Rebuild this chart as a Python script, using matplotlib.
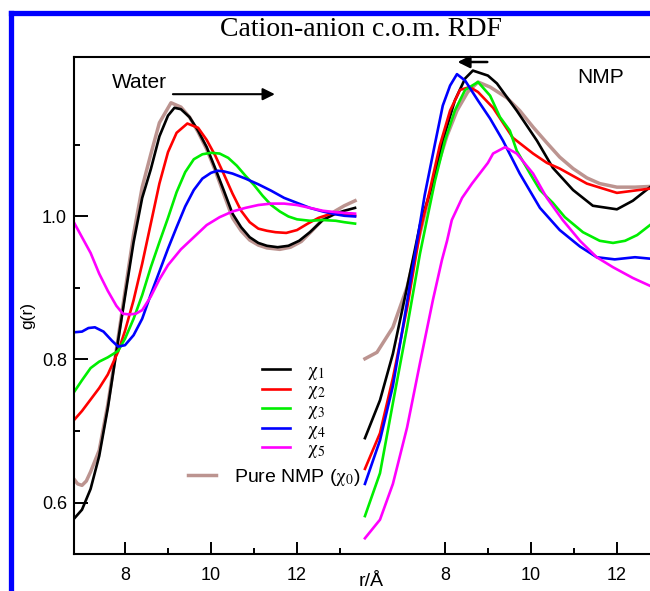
import matplotlib
matplotlib.use('Agg')
import matplotlib.pyplot as plt
from matplotlib.lines import Line2D

plt.rcParams['font.family'] = ['Liberation Sans', 'DejaVu Sans']
plt.rcParams['mathtext.fontset'] = 'stix'

# ---- water panel (left) : r in Angstrom, g(r) ----
w_r_chi1 = [6.81, 7.0, 7.2, 7.4, 7.6, 7.8, 8.0, 8.2, 8.4, 8.6, 8.8, 9.0, 9.15, 9.3, 9.5, 9.7, 9.9,
            10.1, 10.3, 10.5, 10.7, 10.9, 11.1, 11.3, 11.55, 11.8, 12.05, 12.3, 12.6, 12.9, 13.1, 13.35]
w_g_chi1 = [0.577, 0.590, 0.619, 0.665, 0.732, 0.811, 0.888, 0.964, 1.026, 1.066, 1.112, 1.141, 1.152,
            1.150, 1.139, 1.120, 1.097, 1.067, 1.036, 1.004, 0.985, 0.971, 0.963, 0.959, 0.957, 0.959,
            0.966, 0.978, 0.995, 1.004, 1.008, 1.012]

w_r_chi2 = [6.81, 7.0, 7.2, 7.4, 7.6, 7.84, 8.0, 8.2, 8.4, 8.6, 8.8, 9.0, 9.2, 9.45, 9.7, 9.9, 10.1,
            10.3, 10.5, 10.7, 10.9, 11.1, 11.3, 11.5, 11.75, 12.0, 12.25, 12.5, 12.8, 13.1, 13.35]
w_g_chi2 = [0.715, 0.728, 0.744, 0.760, 0.779, 0.811, 0.840, 0.883, 0.934, 0.990, 1.046, 1.090, 1.117,
            1.130, 1.124, 1.107, 1.085, 1.059, 1.032, 1.008, 0.992, 0.983, 0.980, 0.978, 0.977, 0.981,
            0.990, 0.998, 1.004, 1.003, 1.001]

w_r_chi3 = [6.81, 7.0, 7.2, 7.4, 7.6, 7.84, 8.0, 8.2, 8.4, 8.6, 8.8, 9.0, 9.2, 9.4, 9.6, 9.8, 10.0,
            10.2, 10.4, 10.6, 10.8, 11.0, 11.2, 11.4, 11.6, 11.8, 12.0, 12.3, 12.6, 12.9, 13.1, 13.35]
w_g_chi3 = [0.754, 0.771, 0.788, 0.797, 0.803, 0.812, 0.829, 0.857, 0.890, 0.929, 0.964, 0.998, 1.034,
            1.062, 1.080, 1.087, 1.089, 1.088, 1.082, 1.071, 1.057, 1.044, 1.029, 1.016, 1.007, 1.000,
            0.996, 0.994, 0.995, 0.994, 0.992, 0.990]

w_r_chi4 = [6.81, 7.0, 7.15, 7.3, 7.5, 7.7, 7.84, 8.0, 8.2, 8.4, 8.6, 8.8, 9.0, 9.2, 9.4, 9.6, 9.8,
            10.0, 10.15, 10.3, 10.5, 10.8, 11.1, 11.4, 11.7, 12.0, 12.3, 12.6, 12.9, 13.1, 13.35]
w_g_chi4 = [0.838, 0.839, 0.844, 0.845, 0.839, 0.826, 0.818, 0.820, 0.834, 0.857, 0.891, 0.923, 0.955,
            0.985, 1.014, 1.037, 1.053, 1.061, 1.064, 1.063, 1.060, 1.053, 1.045, 1.036, 1.026, 1.019,
            1.012, 1.007, 1.003, 1.001, 1.000]

w_r_chi5 = [6.81, 7.0, 7.2, 7.4, 7.6, 7.8, 7.95, 8.1, 8.25, 8.4, 8.6, 8.8, 9.0, 9.3, 9.6, 9.9, 10.2,
            10.5, 10.8, 11.1, 11.4, 11.7, 12.0, 12.3, 12.6, 12.9, 13.1, 13.35]
w_g_chi5 = [0.992, 0.971, 0.949, 0.920, 0.896, 0.875, 0.864, 0.863, 0.864, 0.869, 0.888, 0.912, 0.932,
            0.954, 0.971, 0.988, 0.999, 1.007, 1.012, 1.016, 1.018, 1.018, 1.016, 1.012, 1.008, 1.006,
            1.005, 1.004]

w_r_chi0 = [6.81, 6.9, 7.0, 7.1, 7.2, 7.4, 7.6, 7.8, 8.0, 8.2, 8.4, 8.6, 8.8, 9.07, 9.3, 9.5, 9.7,
            9.9, 10.1, 10.3, 10.5, 10.7, 10.9, 11.1, 11.3, 11.6, 11.85, 12.1, 12.35, 12.6, 12.9, 13.1, 13.35]
w_g_chi0 = [0.633, 0.626, 0.624, 0.630, 0.643, 0.673, 0.737, 0.814, 0.895, 0.975, 1.041, 1.087, 1.131,
            1.159, 1.153, 1.139, 1.118, 1.094, 1.064, 1.031, 0.998, 0.980, 0.967, 0.960, 0.956, 0.954,
            0.957, 0.965, 0.980, 0.996, 1.008, 1.015, 1.022]

# ---- NMP panel (right) ----
n_r_chi1 = [6.14, 6.49, 6.79, 7.12, 7.42, 7.7, 7.95, 8.23, 8.47, 8.65, 9.0, 9.21, 9.67, 10.14, 10.51,
            10.98, 11.44, 12.0, 12.37, 12.77]
n_g_chi1 = [0.690, 0.743, 0.808, 0.901, 0.988, 1.043, 1.106, 1.162, 1.193, 1.204, 1.197, 1.186, 1.148,
            1.106, 1.068, 1.037, 1.015, 1.010, 1.022, 1.041]

n_r_chi2 = [6.14, 6.49, 6.79, 7.12, 7.42, 7.65, 7.88, 8.12, 8.35, 8.58, 8.77, 9.12, 9.58, 10.05, 10.37,
            10.67, 11.3, 12.0, 12.77]
n_g_chi2 = [0.647, 0.697, 0.774, 0.872, 0.978, 1.037, 1.099, 1.148, 1.177, 1.181, 1.174, 1.152, 1.110,
            1.088, 1.075, 1.067, 1.046, 1.033, 1.039]

n_r_chi3 = [6.14, 6.49, 6.79, 7.12, 7.42, 7.58, 7.77, 8.0, 8.23, 8.47, 8.77, 9.05, 9.28, 9.51, 9.67,
            9.98, 10.21, 10.51, 10.79, 11.21, 11.6, 11.91, 12.19, 12.47, 12.77]
n_g_chi3 = [0.581, 0.641, 0.739, 0.845, 0.948, 0.995, 1.050, 1.106, 1.148, 1.177, 1.188, 1.169, 1.139,
            1.120, 1.092, 1.060, 1.037, 1.019, 0.999, 0.978, 0.966, 0.963, 0.966, 0.974, 0.988]

n_r_chi4 = [6.14, 6.49, 6.79, 7.05, 7.26, 7.53, 7.77, 7.95, 8.12, 8.28, 8.47, 8.77, 9.05, 9.35, 9.74,
            10.21, 10.67, 11.14, 11.53, 11.95, 12.42, 12.77]
n_g_chi4 = [0.626, 0.687, 0.763, 0.855, 0.932, 1.030, 1.102, 1.155, 1.183, 1.199, 1.190, 1.162, 1.137,
            1.106, 1.060, 1.012, 0.981, 0.958, 0.943, 0.940, 0.943, 0.941]

n_r_chi5 = [6.14, 6.49, 6.79, 7.12, 7.42, 7.72, 7.93, 8.05, 8.16, 8.4, 8.63, 9.0, 9.12, 9.4, 9.67,
            10.05, 10.37, 10.74, 11.14, 11.53, 11.91, 12.37, 12.77]
n_g_chi5 = [0.550, 0.576, 0.626, 0.705, 0.795, 0.883, 0.939, 0.966, 0.995, 1.026, 1.046, 1.075, 1.088,
            1.097, 1.088, 1.060, 1.026, 0.995, 0.966, 0.943, 0.929, 0.914, 0.903]

n_r_chi0 = [6.14, 6.42, 6.79, 7.12, 7.35, 7.58, 7.81, 8.05, 8.28, 8.53, 8.77, 9.05, 9.44, 9.74, 10.05,
            10.37, 10.67, 10.98, 11.3, 11.6, 12.0, 12.42, 12.77]
n_g_chi0 = [0.801, 0.810, 0.845, 0.901, 0.959, 1.015, 1.067, 1.113, 1.148, 1.174, 1.188, 1.181, 1.166,
            1.148, 1.125, 1.103, 1.083, 1.067, 1.054, 1.046, 1.041, 1.041, 1.042]

# both panels share one frame; the NMP panel is drawn shifted to the right
nmp_shift = 7.44

series_labels = [r'$\mathrm{\chi}_1$', r'$\mathrm{\chi}_2$', r'$\mathrm{\chi}_3$',
                 r'$\mathrm{\chi}_4$', r'$\mathrm{\chi}_5$']
series_colors = ['#000000', '#ff0000', '#00ee00', '#0000ff', '#ff00ff']
pure_label = r'Pure NMP ($\mathrm{\chi}_0$)'
pure_color = '#bc9490'

water = [(w_r_chi1, w_g_chi1), (w_r_chi2, w_g_chi2), (w_r_chi3, w_g_chi3),
         (w_r_chi4, w_g_chi4), (w_r_chi5, w_g_chi5)]
nmp = [(n_r_chi1, n_g_chi1), (n_r_chi2, n_g_chi2), (n_r_chi3, n_g_chi3),
       (n_r_chi4, n_g_chi4), (n_r_chi5, n_g_chi5)]

fig = plt.figure(figsize=(6.5, 5.91), dpi=100)
ax = fig.add_axes([74 / 650, 37 / 591, 576 / 650, 497 / 591])

lw = 1.9
pure_w, = ax.plot(w_r_chi0, w_g_chi0, color=pure_color, lw=lw + 0.6)
ax.plot([r + nmp_shift for r in n_r_chi0], n_g_chi0, color=pure_color, lw=lw + 0.6)
handles = []
for (r, g), col in zip(water, series_colors):
    h, = ax.plot(r, g, color=col, lw=lw)
    handles.append(h)
for (r, g), col in zip(nmp, series_colors):
    ax.plot([x + nmp_shift for x in r], g, color=col, lw=lw)

ax.set_xlim(6.814, 6.814 + 576 / 43)
ax.set_ylim(0.528, 1.223)

major_x = [8, 10, 12]
minor_x = [9, 11, 13]
ax.set_xticks(major_x + [x + nmp_shift for x in major_x])
ax.set_xticklabels([str(x) for x in major_x] * 2)
ax.set_xticks(minor_x + [x + nmp_shift for x in minor_x[:2]], minor=True)
ax.set_yticks([0.6, 0.8, 1.0])
ax.set_yticklabels(['0.6', '0.8', '1.0'])
ax.set_yticks([0.7, 0.9, 1.1], minor=True)

for s in ['left', 'top', 'bottom']:
    ax.spines[s].set_linewidth(1.5)
ax.spines['right'].set_visible(False)
ax.tick_params(axis='both', which='both', direction='in', width=1.4, labelsize=13)
ax.tick_params(axis='y', which='major', length=10, pad=5)
ax.tick_params(axis='y', which='minor', length=4.5)
ax.tick_params(axis='x', which='major', length=9, pad=9)
ax.tick_params(axis='x', which='minor', length=4.5)

ax.set_ylabel('g(r)', fontsize=12.5)
ax.yaxis.set_label_coords(-0.068, 0.48)
ax.set_xlabel('r/Å', fontsize=14)
ax.xaxis.set_label_coords(0.515, -0.038)

fig.text(361 / 650, 1 - 30 / 591, 'Cation-anion c.o.m. RDF', family='Liberation Serif',
         fontsize=20, ha='center', va='center')

ax.text(8.33, 1.187, 'Water', fontsize=15, ha='center', va='center')
ax.annotate('', xy=(11.55, 1.171), xytext=(9.05, 1.171),
            arrowprops=dict(arrowstyle='-|>', color='black', lw=1.5, mutation_scale=18))
ax.text(19.07, 1.194, 'NMP', fontsize=15, ha='center', va='center')
ax.annotate('', xy=(15.67, 1.216), xytext=(16.49, 1.216),
            arrowprops=dict(arrowstyle='-|>', color='black', lw=1.8, mutation_scale=18))

leg1 = ax.legend(handles, series_labels, loc='upper left', bbox_to_anchor=(0.326, 0.386),
                 frameon=False, borderpad=0, borderaxespad=0, handlelength=1.45,
                 handletextpad=0.9, labelspacing=0.0, fontsize=14)
ax.add_artist(leg1)
ax.legend([pure_w], [pure_label], loc='upper left', bbox_to_anchor=(0.198, 0.175),
          frameon=False, borderpad=0, borderaxespad=0, handlelength=1.45,
          handletextpad=0.9, fontsize=14)

# blue frame around the picture (left and top edges)
fig.add_artist(Line2D([10.5 / 650, 10.5 / 650], [0, 1 - 12.5 / 591], transform=fig.transFigure,
                      color='#0000ff', lw=3.8, solid_capstyle='projecting'))
fig.add_artist(Line2D([10.5 / 650, 1], [1 - 12.5 / 591, 1 - 12.5 / 591], transform=fig.transFigure,
                      color='#0000ff', lw=3.8, solid_capstyle='projecting'))

fig.savefig('out.png', dpi=100)
